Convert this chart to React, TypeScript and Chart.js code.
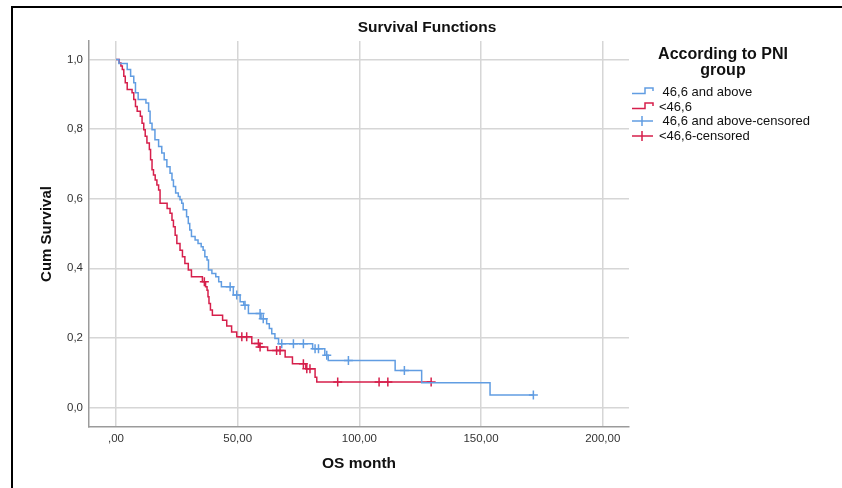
import React, { useEffect, useRef } from "react";
import { Chart, registerables } from "chart.js";

Chart.register(...registerables);

const chartTitle = "Survival Functions";
const xAxisTitle = "OS month";
const yAxisTitle = "Cum Survival";
const legendTitle = ["According to PNI", "group"];
const seriesNames = [" 46,6 and above", "<46,6", " 46,6 and above-censored", "<46,6-censored"];

const xTicks = [0, 50, 100, 150, 200];
const xTickLabels = [",00", "50,00", "100,00", "150,00", "200,00"];
const yTicks = [0, 0.2, 0.4, 0.6, 0.8, 1.0];
const yTickLabels = ["0,0", "0,2", "0,4", "0,6", "0,8", "1,0"];

// 46,6 and above (Kaplan-Meier steps)
const highTimes = [0, 1.2, 4.6, 6.0, 7.3, 8.0, 9.1, 12.3, 13.4, 14.0, 14.8, 16.0, 17.5, 18.8, 19.8, 20.9, 22.2, 23.0, 23.6, 24.5, 25.6, 26.3, 27.0, 27.6, 29.0, 29.7, 30.3, 31.0, 32.5, 33.7, 35.0, 35.8, 36.5, 37.4, 38.0, 39.4, 41.0, 42.2, 43.3, 48.2, 51.0, 52.5, 54.4, 59.6, 61.9, 63.0, 64.0, 65.3, 66.8, 80.8, 85.8, 87.2, 114.7, 125.6, 153.7, 171.5];
const highSurv = [1.0, 0.988, 0.971, 0.952, 0.933, 0.904, 0.885, 0.875, 0.851, 0.817, 0.798, 0.769, 0.75, 0.731, 0.712, 0.692, 0.673, 0.654, 0.635, 0.616, 0.606, 0.597, 0.587, 0.568, 0.548, 0.529, 0.51, 0.491, 0.481, 0.471, 0.462, 0.452, 0.433, 0.424, 0.395, 0.385, 0.376, 0.361, 0.347, 0.323, 0.304, 0.294, 0.27, 0.255, 0.241, 0.227, 0.212, 0.198, 0.183, 0.169, 0.15, 0.135, 0.106, 0.071, 0.036, 0.036];
const highCensorTimes = [46.9, 49.6, 53.0, 59.2, 60.5, 68.1, 72.9, 77.0, 81.8, 83.2, 86.6, 95.5, 118.5, 171.5];
const highCensorSurv = [0.347, 0.323, 0.294, 0.27, 0.255, 0.183, 0.183, 0.183, 0.169, 0.169, 0.15, 0.135, 0.106, 0.036];

// <46,6 (Kaplan-Meier steps)
const lowTimes = [0, 1.3, 2.0, 2.6, 3.2, 3.8, 4.6, 6.6, 7.3, 8.0, 8.7, 10.0, 10.7, 11.4, 12.0, 12.7, 13.7, 14.2, 14.8, 15.4, 16.1, 16.8, 17.5, 18.1, 21.0, 22.2, 23.0, 23.6, 24.3, 25.0, 26.3, 27.3, 28.3, 29.7, 31.0, 35.5, 36.8, 37.4, 37.8, 38.2, 38.8, 39.6, 43.8, 45.5, 47.5, 49.6, 55.8, 59.0, 62.3, 69.5, 72.5, 78.0, 81.8, 82.5, 129.5];
const lowSurv = [1.0, 0.99, 0.981, 0.971, 0.952, 0.933, 0.914, 0.904, 0.885, 0.865, 0.851, 0.837, 0.817, 0.798, 0.779, 0.76, 0.741, 0.712, 0.683, 0.668, 0.654, 0.639, 0.625, 0.587, 0.572, 0.558, 0.538, 0.519, 0.495, 0.471, 0.452, 0.433, 0.414, 0.395, 0.376, 0.361, 0.347, 0.337, 0.318, 0.299, 0.28, 0.265, 0.251, 0.234, 0.217, 0.203, 0.184, 0.174, 0.164, 0.145, 0.126, 0.111, 0.087, 0.073, 0.073];
const lowCensorTimes = [36.3, 51.7, 53.7, 58.5, 59.2, 66.0, 67.4, 77.0, 78.4, 79.7, 91.1, 108.1, 111.7, 129.5];
const lowCensorSurv = [0.361, 0.203, 0.203, 0.184, 0.174, 0.164, 0.164, 0.126, 0.111, 0.111, 0.073, 0.073, 0.073, 0.073];

const BLUE = "#619de2";
const RED = "#d61f4b";
const FONT = '"Liberation Sans", Arial, sans-serif';

const pts = (xs: number[], ys: number[]) => xs.map((x, i) => ({ x, y: ys[i] }));

const decorPlugin = {
  id: "decor",
  afterDraw(chart: any) {
    const ctx = chart.ctx as CanvasRenderingContext2D;
    ctx.save();
    // outer frame (top and left)
    ctx.strokeStyle = "#000";
    ctx.lineWidth = 2;
    ctx.beginPath();
    ctx.moveTo(12, 488);
    ctx.lineTo(12, 7);
    ctx.lineTo(842, 7);
    ctx.stroke();

    // title
    ctx.fillStyle = "#111";
    ctx.textAlign = "center";
    ctx.textBaseline = "middle";
    ctx.font = `bold 15.5px ${FONT}`;
    ctx.fillText(chartTitle, 427, 28);

    // legend title
    ctx.font = `bold 16px ${FONT}`;
    ctx.fillText(legendTitle[0], 723, 55);
    ctx.fillText(legendTitle[1], 723, 71);

    // legend items
    ctx.font = `13px ${FONT}`;
    ctx.textAlign = "left";
    const rows = [92, 107, 121, 136];
    const colors = [BLUE, RED, BLUE, RED];
    rows.forEach((y, i) => {
      ctx.strokeStyle = colors[i];
      ctx.lineWidth = 1.5;
      ctx.beginPath();
      if (i < 2) {
        ctx.moveTo(632, y + 1.5);
        ctx.lineTo(645, y + 1.5);
        ctx.lineTo(645, y - 4);
        ctx.lineTo(653, y - 4);
        ctx.lineTo(653, y - 1);
      } else {
        ctx.moveTo(632, y);
        ctx.lineTo(653, y);
        ctx.moveTo(642, y - 5);
        ctx.lineTo(642, y + 5);
      }
      ctx.stroke();
      ctx.fillStyle = "#111";
      ctx.fillText(seriesNames[i], 659, y);
    });
    ctx.restore();
  },
};

export default function App() {
  const ref = useRef<HTMLCanvasElement | null>(null);

  useEffect(() => {
    if (!ref.current) return;
    const chart = new Chart(ref.current, {
      type: "scatter",
      data: {
        datasets: [
          {
            label: seriesNames[0],
            data: pts(highTimes, highSurv),
            showLine: true,
            stepped: true,
            borderColor: BLUE,
            backgroundColor: BLUE,
            borderWidth: 1.5,
            pointRadius: 0,
            fill: false,
          },
          {
            label: seriesNames[1],
            data: pts(lowTimes, lowSurv),
            showLine: true,
            stepped: true,
            borderColor: RED,
            backgroundColor: RED,
            borderWidth: 1.5,
            pointRadius: 0,
            fill: false,
          },
          {
            label: seriesNames[2],
            data: pts(highCensorTimes, highCensorSurv),
            showLine: false,
            pointStyle: "cross",
            pointRadius: 4.5,
            borderColor: BLUE,
            borderWidth: 1.5,
          },
          {
            label: seriesNames[3],
            data: pts(lowCensorTimes, lowCensorSurv),
            showLine: false,
            pointStyle: "cross",
            pointRadius: 4.5,
            borderColor: RED,
            borderWidth: 1.5,
          },
        ] as any,
      },
      options: {
        animation: false,
        responsive: false,
        devicePixelRatio: 1,
        layout: { padding: { top: 41, right: 213, bottom: 0, left: 0 } },
        plugins: {
          legend: { display: false },
          title: { display: false },
          tooltip: { enabled: false },
        },
        scales: {
          x: {
            type: "linear",
            min: -11.1,
            max: 210.8,
            afterBuildTicks: (s: any) => {
              s.ticks = xTicks.map((v) => ({ value: v }));
            },
            afterFit: (s: any) => {
              s.height = 61;
            },
            ticks: {
              padding: 5,
              color: "#333",
              font: { family: FONT, size: 11.5 },
              maxRotation: 0,
              callback: (v: any) => {
                const i = xTicks.indexOf(Number(v));
                return i >= 0 ? xTickLabels[i] : "";
              },
            },
            grid: { color: "#d6d6d6", lineWidth: 1.5, drawTicks: false },
            border: { color: "#9b9b9b", width: 1.5 },
            title: {
              display: true,
              text: xAxisTitle,
              color: "#111",
              font: { family: FONT, size: 15.5, weight: "bold" },
              padding: { top: 0, bottom: 15 },
            },
          },
          y: {
            type: "linear",
            min: -0.056,
            max: 1.053,
            afterBuildTicks: (s: any) => {
              s.ticks = yTicks.map((v) => ({ value: v }));
            },
            afterFit: (s: any) => {
              s.width = 89;
            },
            ticks: {
              padding: 6,
              color: "#333",
              font: { family: FONT, size: 11.5 },
              callback: (v: any) => {
                const i = yTicks.findIndex((t) => Math.abs(t - Number(v)) < 1e-6);
                return i >= 0 ? yTickLabels[i] : "";
              },
            },
            grid: { color: "#d6d6d6", lineWidth: 1.5, drawTicks: false },
            border: { color: "#9b9b9b", width: 1.5 },
            title: {
              display: true,
              text: yAxisTitle,
              color: "#111",
              font: { family: FONT, size: 15, weight: "bold" },
              padding: { top: 38, bottom: 0 },
            },
          },
        },
      } as any,
      plugins: [decorPlugin],
    });
    return () => chart.destroy();
  }, []);

  return (
    <div style={{ position: "fixed", left: 0, top: 0, width: 842, height: 488, background: "#fff" }}>
      <canvas ref={ref} width={842} height={488} style={{ display: "block" }} />
    </div>
  );
}
